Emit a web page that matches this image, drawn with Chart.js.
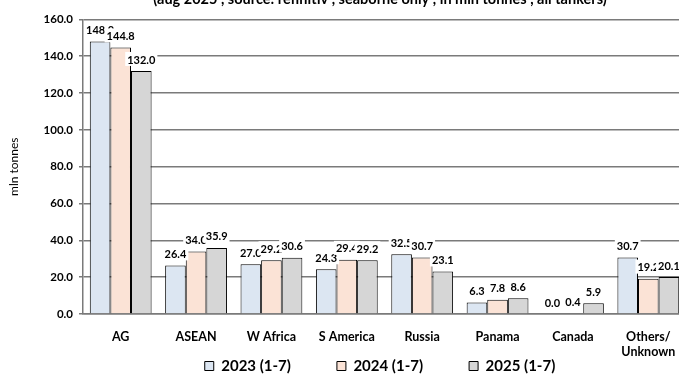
<!DOCTYPE html>
<html>
<head>
<meta charset="utf-8">
<script src="https://cdn.jsdelivr.net/npm/chart.js@4.4.0/dist/chart.umd.min.js"></script>
<style>
  html,body{margin:0;padding:0;background:#fff;overflow:hidden;width:679px;height:374px;}
  #wrap{position:absolute;left:0;top:-12px;width:760px;height:449px;}
</style>
</head>
<body>
<div id="wrap"><canvas id="myChart"></canvas></div>
<script>
// categories and values (mln tonnes, Jan-Jul)
const regions = ["AG", "ASEAN", "W Africa", "S America", "Russia", "Panama", "Canada", ["Others/", "Unknown"]];
const y2023 = [148.0, 26.4, 27.0, 24.3, 32.5, 6.3, 0.0, 30.7];
const y2024 = [144.8, 34.0, 29.2, 29.4, 30.7, 7.8, 0.4, 19.2];
const y2025 = [132.0, 35.9, 30.6, 29.2, 23.1, 8.6, 5.9, 20.1];
const seriesNames = ["2023 (1-7)", "2024 (1-7)", "2025 (1-7)"];
const yTicks = [0, 20, 40, 60, 80, 100, 120, 140, 160];

const FONT = "Lato";
const LEG_PAD = 46;

// white-boxed value labels like the excel ones
const barLabels = {
  id: "barLabels",
  afterDatasetsDraw(chart) {
    const ctx = chart.ctx;
    ctx.save();
    ctx.font = "bold 11px " + FONT;
    ctx.textAlign = "center";
    ctx.textBaseline = "middle";
    chart.data.datasets.forEach((ds, i) => {
      chart.getDatasetMeta(i).data.forEach((bar, j) => {
        const txt = ds.data[j].toFixed(1);
        const w = ctx.measureText(txt).width + 4;
        const h = 14;
        const cx = bar.x, cy = bar.y - 12;
        ctx.fillStyle = "#fff";
        ctx.fillRect(cx - w / 2, cy - h / 2, w, h);
        ctx.fillStyle = "#000";
        ctx.fillText(txt, cx, cy + 1);
      });
    });
    ctx.restore();
  }
};

// legend uses big padding for the wide spacing, pull it back up under the axis labels
const legendShift = {
  id: "legendShift",
  afterLayout(chart) {
    const lg = chart.legend;
    const dy = lg.top - (chart.chartArea.bottom + 52 - LEG_PAD - 7.5);
    lg.top -= dy;
    lg.bottom -= dy;
  }
};

const ctx = document.getElementById("myChart");
new Chart(ctx, {
  type: "bar",
  data: {
    labels: regions,
    datasets: [
      {label: seriesNames[0], data: y2023, backgroundColor: "#dce6f2", borderColor: "#000", borderWidth: 1},
      {label: seriesNames[1], data: y2024, backgroundColor: "#fbe3d6", borderColor: "#000", borderWidth: 1},
      {label: seriesNames[2], data: y2025, backgroundColor: "#d6d6d6", borderColor: "#000", borderWidth: 1}
    ]
  },
  options: {
    responsive: true,
    maintainAspectRatio: false,
    animation: false,
    categoryPercentage: 0.82,
    barPercentage: 1.0,
    layout: {padding: 0},
    plugins: {
      title: {
        display: true,
        text: "(aug 2025 , source: refinitiv , seaborne only , in mln tonnes , all tankers)",
        color: "#000",
        font: {family: FONT, size: 14.5, weight: "bold"},
        padding: {top: 3, bottom: 11}
      },
      legend: {
        position: "bottom",
        labels: {
          color: "#000",
          boxWidth: 9,
          boxHeight: 9,
          padding: LEG_PAD,
          font: {family: FONT, size: 15, weight: "bold"}
        }
      },
      tooltip: {enabled: false}
    },
    scales: {
      x: {
        grid: {display: false},
        border: {color: "#7a7a7a", width: 1.5},
        ticks: {color: "#000", font: {family: FONT, size: 12.5, weight: "bold"}, maxRotation: 0, autoSkip: false, padding: 7}
      },
      y: {
        min: 0,
        max: 160,
        afterBuildTicks: (s) => { s.ticks = yTicks.map(v => ({value: v})); },
        afterFit: (s) => { s.width = 83; },
        grid: {color: "#7a7a7a", lineWidth: 1.5, tickLength: 4},
        border: {color: "#7a7a7a", width: 1.5},
        ticks: {color: "#000", font: {family: FONT, size: 11.5, weight: "bold"}, padding: 6,
          callback: (v) => v.toFixed(1)},
        title: {display: true, text: "mln tonnes", color: "#000",
          font: {family: FONT, size: 12}, padding: {top: 7, bottom: 0}}
      },
      yr: {
        position: "right",
        afterFit: (s) => { s.width = 74; },
        grid: {display: false},
        border: {display: false},
        ticks: {display: false}
      }
    }
  },
  plugins: [barLabels, legendShift]
});
</script>
</body>
</html>
